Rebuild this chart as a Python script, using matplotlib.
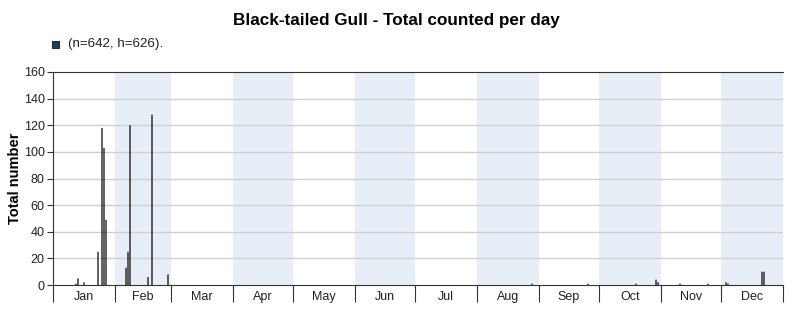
import matplotlib.pyplot as plt
import numpy as np

plt.rcParams['font.family'] = ['Liberation Sans', 'DejaVu Sans']

# day of year (1-based) and count per day
days = [12, 13, 16, 23, 25, 26, 27, 37, 38, 39, 48, 50, 58,
        240, 268, 292, 302, 303, 314, 328, 337, 338, 355, 356]
counts = [1, 5, 2, 25, 118, 103, 49, 13, 25, 120, 6, 128, 8,
          1, 1, 1, 4, 2, 1, 1, 2, 1, 10, 10]

months = ['Jan', 'Feb', 'Mar', 'Apr', 'May', 'Jun',
          'Jul', 'Aug', 'Sep', 'Oct', 'Nov', 'Dec']
month_len = [31, 28, 31, 30, 31, 30, 31, 31, 30, 31, 30, 31]

title = 'Black-tailed Gull - Total counted per day'
legend_text = '(n=642, h=626).'

fig = plt.figure(figsize=(7.97, 3.16), dpi=100)
ax = fig.add_axes([53 / 797, 31 / 316, 730 / 797, 213 / 316])

edges = np.concatenate([[0], np.cumsum(month_len)])
for i in range(12):
    if i % 2 == 1:
        ax.axvspan(edges[i], edges[i + 1], color='#e8eef8', lw=0, zorder=0)

for y in range(20, 160, 20):
    ax.axhline(y, color='#cfcfcf', lw=1, zorder=1)

ax.bar(np.array(days) - 0.5, counts, width=0.6, color='#000000', lw=0,
       snap=False, zorder=3)

ax.set_xlim(0, 365)
ax.set_ylim(0, 160)
ax.set_yticks(range(0, 161, 20))
ax.tick_params(axis='y', labelsize=9, length=4, color='#333333', labelcolor='#222222', pad=2)

ax.set_xticks(edges)
ax.set_xticklabels([])
ax.tick_params(axis='x', which='major', length=12, color='#333333', direction='out')
centers = (edges[:-1] + edges[1:]) / 2
ax.set_xticks(centers, minor=True)
ax.set_xticklabels(months, minor=True, fontsize=9, color='#222222')
ax.tick_params(axis='x', which='minor', length=0, pad=4)

for s in ['left', 'bottom', 'top']:
    ax.spines[s].set_color('#333333')
ax.spines['right'].set_visible(False)

ax.set_ylabel('Total number', fontsize=10.5, fontweight='bold', labelpad=1)

fig.text(396 / 797, 1 - 20 / 316, title, ha='center', va='center',
         fontsize=12.3, fontweight='bold')
fig.patches.append(plt.Rectangle((52 / 797, 1 - 47.5 / 316), 7 / 797, 7 / 316,
                                 transform=fig.transFigure, facecolor='#1f3d5c',
                                 edgecolor='#111111', lw=0.6))
fig.text(68 / 797, 1 - 44 / 316, legend_text, ha='left', va='center',
         fontsize=9.6, color='#222222')

fig.savefig('out.png', dpi=100)
